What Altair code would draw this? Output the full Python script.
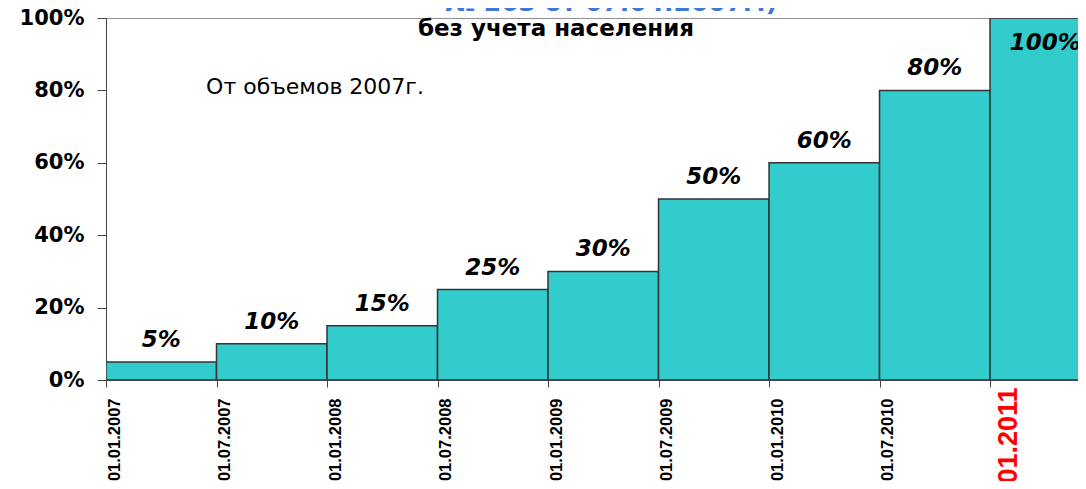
import altair as alt
import pandas as pd

dates = ["01.01.2007", "01.07.2007", "01.01.2008", "01.07.2008", "01.01.2009",
         "01.07.2009", "01.01.2010", "01.07.2010", "01.01.2011"]
values = [0.05, 0.10, 0.15, 0.25, 0.30, 0.50, 0.60, 0.80, 1.00]
bar_labels = ["5%", "10%", "15%", "25%", "30%", "50%", "60%", "80%", "100%"]
y_ticks = [0, 0.1, 0.2, 0.3, 0.4, 0.5, 0.6, 0.7, 0.8, 0.9, 1.0]

df = pd.DataFrame({
    "start": list(range(len(values))),
    "end": [i + 1 for i in range(len(values))],
    "mid": [i + 0.5 for i in range(len(values))],
    "value": values,
    "label": bar_labels,
})

label_js = "[" + ",".join("'%s'" % d for d in dates) + "]"
last = len(dates) - 1
is_last = "datum.value == %d" % last

xscale = alt.Scale(domain=[0, 8.796], nice=False, zero=False)
yscale = alt.Scale(domain=[0, 1], nice=False)

x_axis = alt.Axis(
    values=list(range(len(dates))),
    labelExpr=label_js + "[datum.value]",
    labelAngle=270,
    labelAlign="right",
    labelBaseline="middle",
    labelFont="Liberation Sans",
    labelFontWeight="bold",
    labelFontSize={"condition": {"test": is_last, "value": 27}, "value": 16.5},
    labelColor={"condition": {"test": is_last, "value": "#ff0000"}, "value": "#000000"},
    labelOffset={"condition": {"test": is_last, "value": 18}, "value": 8},
    labelPadding={"condition": {"test": is_last, "value": 0}, "value": 11},
    labelLimit=400,
    labelOverlap=False,
    labelFlush=False,
    tickSize=7,
    tickColor="#444444",
    domainColor="#444444",
    grid=False,
    title=None,
)

y_axis = alt.Axis(
    values=y_ticks,
    format=".0%",
    labelFont="DejaVu Sans",
    labelFontWeight="bold",
    labelFontSize=21,
    labelColor="#000000",
    labelPadding=13,
    labelOverlap=False,
    labelFlush=False,
    tickSize=9,
    tickColor="#444444",
    domainColor="#444444",
    grid=False,
    title=None,
)

base = alt.Chart(df)

bars = base.mark_rect(color="#33CCCC", stroke="#333333", strokeWidth=1.5, clip=True).encode(
    x=alt.X("start:Q", scale=xscale, axis=x_axis),
    x2="end:Q",
    y=alt.Y("value:Q", scale=yscale, axis=y_axis),
    y2=alt.datum(0),
)

labels = base.transform_calculate(
    ly="datum.value >= 1 ? datum.value - 0.13 : datum.value"
).mark_text(
    font="DejaVu Sans", fontWeight="bold", fontStyle="italic", fontSize=23,
    baseline="bottom", dy=-10, color="#000000"
).encode(
    x=alt.X("mid:Q", scale=xscale),
    y=alt.Y("ly:Q", scale=yscale),
    text="label:N",
)

top_rule = alt.Chart(pd.DataFrame({"v": [1.0]})).mark_rule(color="#444444", strokeWidth=1.2, clip=True).encode(
    y=alt.Y("v:Q", scale=yscale),
)

ann = pd.DataFrame({"t": [0]})
title_blue = alt.Chart(ann).mark_text(
    text="№ 263 от 07.04.2007г.)", font="DejaVu Sans", fontWeight="bold",
    fontSize=25, color="#3D78D8", baseline="alphabetic", align="center"
).encode(x=alt.value(505), y=alt.value(-7))

title_black = alt.Chart(ann).mark_text(
    text="без учета населения", font="DejaVu Sans", fontWeight="bold",
    fontSize=23, color="#000000", baseline="alphabetic", align="center"
).encode(x=alt.value(450), y=alt.value(18))

note = alt.Chart(ann).mark_text(
    text="От объемов 2007г.", font="DejaVu Sans", fontSize=22,
    color="#000000", baseline="middle", align="center"
).encode(x=alt.value(209), y=alt.value(69))

chart = alt.layer(bars, top_rule, labels, title_blue, title_black, note).properties(
    width=972,
    height=362,
    autosize=alt.AutoSizeParams(type="none"),
    padding={"left": 98, "top": 10, "right": 0, "bottom": 101},
).configure_view(stroke=None).configure(background="#ffffff")

chart.save("out.html", embed_options={"renderer": "svg", "actions": False})
